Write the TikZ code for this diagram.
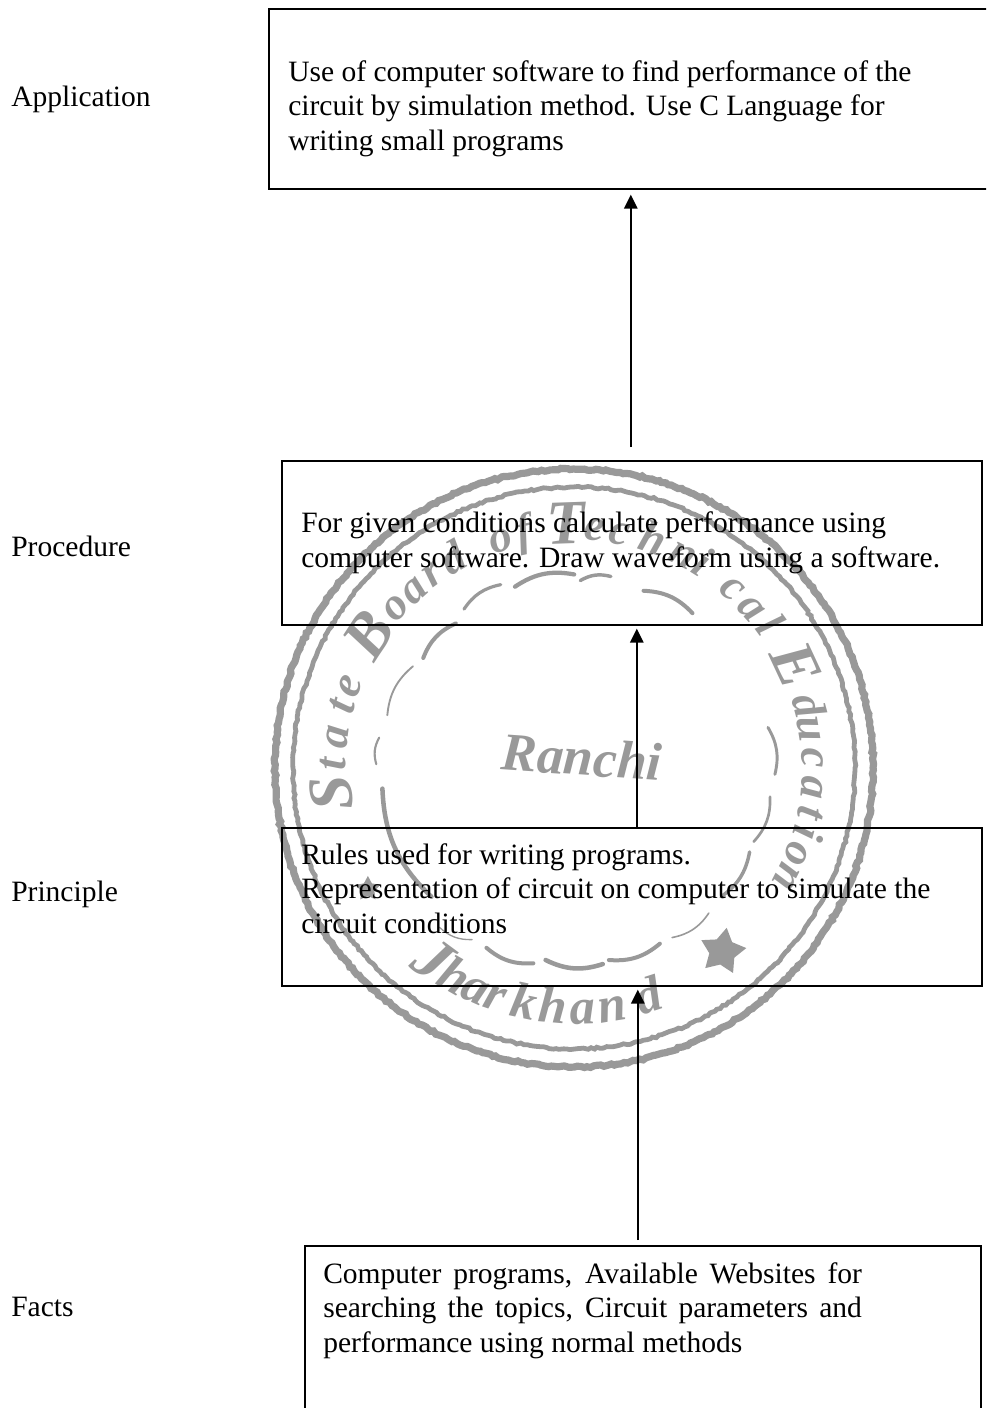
\documentclass[tikz,border=0pt]{standalone}
\usepackage{fontspec}
\setmainfont{Liberation Serif}
\usetikzlibrary{arrows.meta,decorations.pathmorphing,shapes.geometric}
\definecolor{stampgray}{gray}{0.6}
\tikzset{
  boxnode/.style={draw=black,line width=1.6*0.75pt,anchor=north west,inner sep=0pt},
  bodytext/.style={anchor=west,inner sep=0pt,align=left,font=\fontsize{22.15}{26}\selectfont},
  sidelabel/.style={anchor=west,inner sep=0pt,font=\fontsize{22.15}{26}\selectfont},
  flow/.style={draw=black,line width=1.5*0.75pt,-{Triangle[width=10pt,length=10.5pt]}},
  ringline/.style={draw=stampgray,decorate,decoration={random steps,segment length=2.5pt,amplitude=.7pt}},
  stampletter/.style={text=stampgray,inner sep=0pt,anchor=base,font=\fontsize{34}{34}\selectfont\bfseries\itshape},
  stampcap/.style={text=stampgray,inner sep=0pt,anchor=base,font=\fontsize{47}{47}\selectfont\bfseries\itshape},
  scallop/.style={draw=stampgray,line cap=round}
}
\begin{document}
\begin{tikzpicture}[x=0.75pt,y=-0.75pt]
\useasboundingbox (0,0) rectangle (986,1408);
\clip (0,0) rectangle (986,1408);
% --- stamp ---
\begin{scope}[shift={(574,768)},yscale=-1]
  \draw[ringline,line width=5.4pt] (0,0) circle [radius=299];
  \draw[ringline,line width=3.6pt] (0,0) circle [radius=281];
  \foreach \l/\a [count=\i] in {S/186,B/147,T/92,E/25}
    \node[stampcap,rotate=\a-90] (cap\i) at (\a:224) {\l};
  \foreach \l/\a [count=\i] in {t/179,a/172.6,t/165,e/160,o/138,a/132,r/126,d/120,o/107.7,f/102,e/85,c/79,h/71,n/63,i/58,c/48.4,a/42,l/36,d/15,u/9.3,c/2.3,a/-4.7,t/-10.7,i/-15.6,o/-21,n/-27}
    \node[stampletter,rotate=\a-90] (top\i) at (\a:228) {\l};
  \node[stampcap,rotate=233.6+90] (botJ) at (233.6:258) {J};
  \foreach \l/\a [count=\i] in {h/240.3,a/246,r/251,k/258,h/265,a/272,n/279,d/288}
    \node[stampletter,font=\fontsize{38}{38}\selectfont\bfseries\itshape,rotate=\a+90] (bot\i) at (\a:256) {\l};
  \node[shape=star,star points=5,star point ratio=1.8,fill=stampgray,minimum size=48*0.75pt,inner sep=0pt,rotate=-10] (starA) at (-51:236) {};
  \node[shape=star,star points=5,star point ratio=1.9,fill=stampgray,minimum size=26*0.75pt,inner sep=0pt] (starB) at (210.4:239) {};
\end{scope}
\node[text=stampgray,inner sep=0pt,rotate=-4,font=\fontsize{40}{40}\selectfont\itshape\bfseries] (ranchi) at (582,757) {Ranchi};
\begin{scope}[shift={(260,450)},scale=0.408]
  \foreach \xa/\ya/\xb/\yb/\w in {285/770/292/705/1.6,312/650/375/530/1.4,400/510/480/425/3,500/390/590/330/2.4,625/335/770/305/3.2,785/320/860/310/2.6,940/345/1060/400/3,1245/680/1262/795/2.2,1250/850/1210/960/2,1200/985/1130/1095/2.6,1100/1135/1010/1195/1.2,980/1210/855/1250/3,840/1260/700/1250/3.4,670/1258/555/1220/3,520/1200/440/1170/1,420/1095/300/830/3.4}
    \draw[scallop,line width=\w pt] (\xa,\ya) to[bend left=22] (\xb,\yb);
\end{scope}
% --- boxes ---
\node[boxnode,minimum width=724*0.75pt,minimum height=180*0.75pt] (app) at (268,8) {};
\node[boxnode,minimum width=700*0.75pt,minimum height=164*0.75pt] (proc) at (281,460) {};
\node[boxnode,minimum width=700*0.75pt,minimum height=158*0.75pt] (prin) at (281,827) {};
\node[boxnode,minimum width=676*0.75pt,minimum height=180*0.75pt] (facts) at (304,1245) {};
% --- box texts ---
\node[bodytext] (appT) at (288,108.5) {Use of computer software to find performance of the\\circuit by simulation method. Use C Language for\\writing small programs};
\node[bodytext] (procT) at (301,542.5) {For given conditions calculate performance using\\computer software. Draw waveform using a software.};
\node[bodytext] (prinT) at (301,888.5) {Rules used for writing programs.\\Representation of circuit on computer to simulate the\\circuit conditions};
\node[bodytext] (factsT) at (323,1310.5) {\makebox[404pt][s]{Computer programs, Available Websites for}\\\makebox[404pt][s]{searching the topics, Circuit parameters and}\\performance using normal methods};
% --- side labels ---
\node[sidelabel] (lApp) at (11,99.5) {Application};
\node[sidelabel] (lProc) at (11,546.5) {Procedure};
\node[sidelabel] (lPrin) at (11,894) {Principle};
\node[sidelabel] (lFacts) at (11,1307) {Facts};
% --- arrows ---
\draw[flow,shorten <=9.75pt,shorten >=3.75pt] ([xshift=-0.75pt]proc.north) -- (app.south);
\draw[flow,shorten >=2.25pt] ([xshift=3.75pt]prin.north) -- ([xshift=3.75pt]proc.south);
\draw[flow,shorten <=3.75pt,shorten >=2.25pt] ([xshift=-3.75pt]facts.north) -- ([xshift=4.5pt]prin.south);
\end{tikzpicture}
\end{document}
